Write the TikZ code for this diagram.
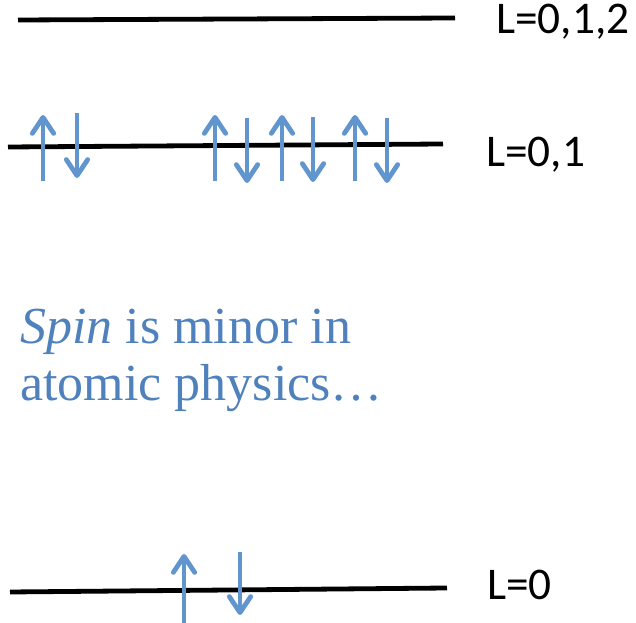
\documentclass[tikz,border=0pt]{standalone}
\usepackage{fontspec}
\setsansfont{Carlito}
\newfontfamily\palfont{Liberation Serif}
\usetikzlibrary{arrows.meta}
\definecolor{spinblue}{RGB}{96, 150, 205}
\definecolor{textblue}{RGB}{79, 129, 189}
\tikzset{
	level/.style={line width=3.6pt, draw=black},
	spin/.style={-{Straight Barb[length=12pt, width=16pt, round]}, line width=3.6pt, draw=spinblue},
	lab/.style={anchor=west, inner sep=0pt, font=\sffamily\fontsize{34}{40}\selectfont},
	remark/.style={anchor=base west, inner sep=0pt, align=left, text=textblue, font=\palfont\fontsize{39}{43}\selectfont},
}
\begin{document}
\begin{tikzpicture}[x=0.75pt, y=-0.75pt]
	\useasboundingbox (0,0) rectangle (636,623);
	% energy levels
	\draw[level] (18,20) -- (455,18);
	\draw[level] (8,147) -- (443,144);
	\draw[level] (10,592) -- (447,588);
	\node[lab] (top) at (496,22) {L=0,1,2};
	\node[lab] (mid) at (486,155) {L=0,1};
	\node[lab] (low) at (487,585) {L=0};
	% spins on the middle level
	\foreach \x in {43, 215, 282, 355}
		\draw[spin] (\x,181) -- (\x,115);
	\foreach \x/\t in {77/113, 247/118, 313/117, 387/118}
		\draw[spin] (\x,\t) -- (\x,\t+65);
	% spins on the lowest level
	\draw[spin] (184,625) -- (184,554);
	\draw[spin] (240,552) -- (240,615);
	\node[remark] (note) at (20,401) {{\itshape Spin} is minor in\\atomic physics\ldots};
\end{tikzpicture}
\end{document}
